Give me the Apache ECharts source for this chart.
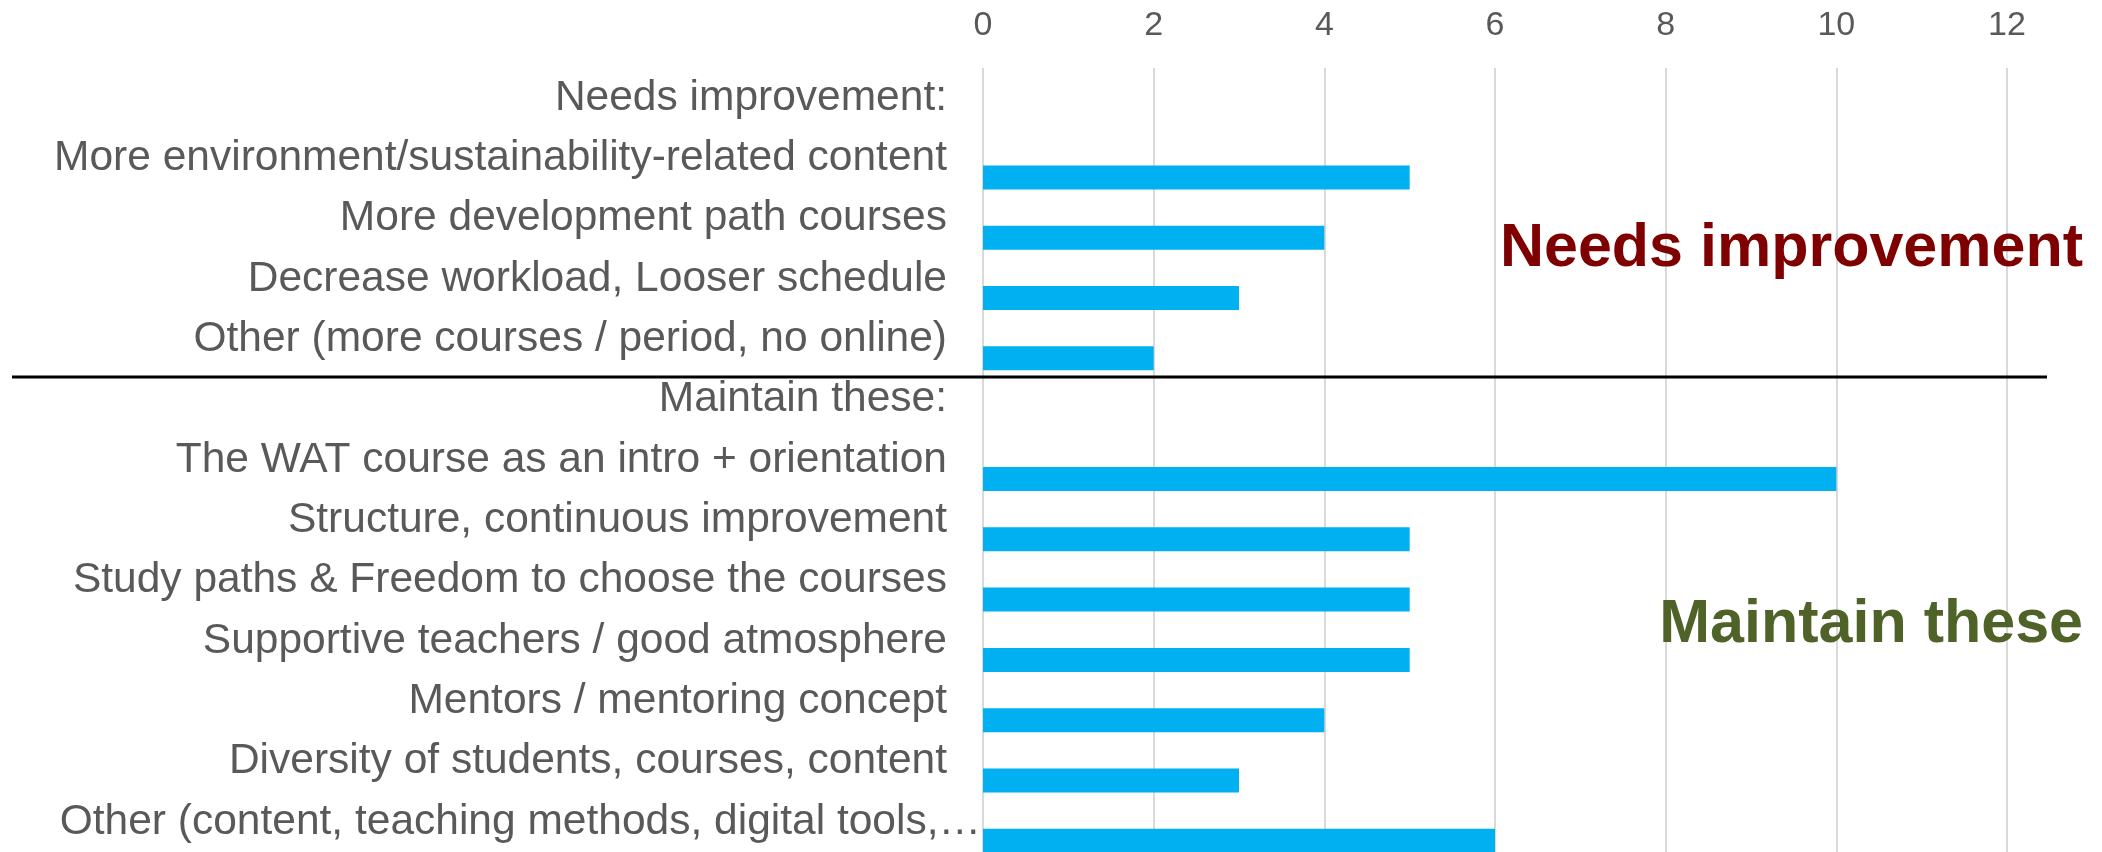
<!DOCTYPE html>
<html>
<head>
<meta charset="utf-8">
<script src="https://cdn.jsdelivr.net/npm/echarts@6/dist/echarts.min.js"></script>
<style>
html, body { margin: 0; padding: 0; background: #fff; }
#chart { width: 2102px; height: 852px; }
</style>
</head>
<body>
<div id="chart"></div>
<script>
var categories = [
    'Needs improvement:',
    'More environment/sustainability-related content',
    'More development path courses',
    'Decrease workload, Looser schedule',
    'Other (more courses / period, no online)',
    'Maintain these:',
    'The WAT course as an intro + orientation',
    'Structure, continuous improvement',
    'Study paths & Freedom to choose the courses',
    'Supportive teachers / good atmosphere',
    'Mentors / mentoring concept',
    'Diversity of students, courses, content',
    'Other (content, teaching methods, digital tools,\u2026'
]
var counts = [null, 5, 4, 3, 2, null, 10, 5, 5, 5, 4, 3, 6]
var spacer = [null, null, null, null, null, null, null, null, null, null, null, null, null]
var groupNotes = ['Needs improvement', 'Maintain these']

var font = "'Liberation Sans', Arial, sans-serif"
var chart = echarts.init(document.getElementById('chart'))

chart.setOption({
    animation: false,
    grid: {
        left: 983,
        right: 95,
        top: 68,
        bottom: -9
    },
    xAxis: {
        type: 'value',
        position: 'top',
        min: 0,
        max: 12,
        interval: 2,
        axisLine: { show: false },
        axisTick: { show: false },
        splitLine: {
            lineStyle: { color: '#d9d9d9', width: 2 }
        },
        axisLabel: {
            margin: 25,
            color: '#595959',
            fontSize: 34,
            fontFamily: font
        }
    },
    yAxis: {
        type: 'category',
        inverse: true,
        data: categories,
        axisLine: { show: false },
        axisTick: { show: false },
        axisLabel: {
            margin: 2,
            formatter: function (v) {
                return v.slice(-1) === '\u2026' ? '{t|' + v + '}' : '{n|' + v + '}'
            },
            rich: {
                n: { fontSize: 42.5, color: '#595959', fontFamily: font, padding: [0, 34, 0, 0] },
                t: { fontSize: 42.5, color: '#595959', fontFamily: font }
            }
        }
    },
    series: [
        {
            name: 'spacer',
            type: 'bar',
            data: spacer,
            barWidth: 24,
            barGap: '58%'
        },
        {
            name: 'count',
            type: 'bar',
            data: counts,
            barWidth: 24,
            itemStyle: { color: '#00b0f0' }
        }
    ],
    graphic: [
        {
            type: 'line',
            z: 100,
            shape: { x1: 12, y1: 377, x2: 2047, y2: 377 },
            style: { stroke: '#000', lineWidth: 3 }
        },
        {
            type: 'text',
            z: 100,
            x: 2083,
            y: 249,
            style: {
                text: groupNotes[0],
                align: 'right',
                verticalAlign: 'middle',
                fontSize: 61,
                fontWeight: 'bold',
                fontFamily: font,
                fill: '#7f0000'
            }
        },
        {
            type: 'text',
            z: 100,
            x: 2083,
            y: 625,
            style: {
                text: groupNotes[1],
                align: 'right',
                verticalAlign: 'middle',
                fontSize: 61,
                fontWeight: 'bold',
                fontFamily: font,
                fill: '#4f6228'
            }
        }
    ]
})
</script>
</body>
</html>
